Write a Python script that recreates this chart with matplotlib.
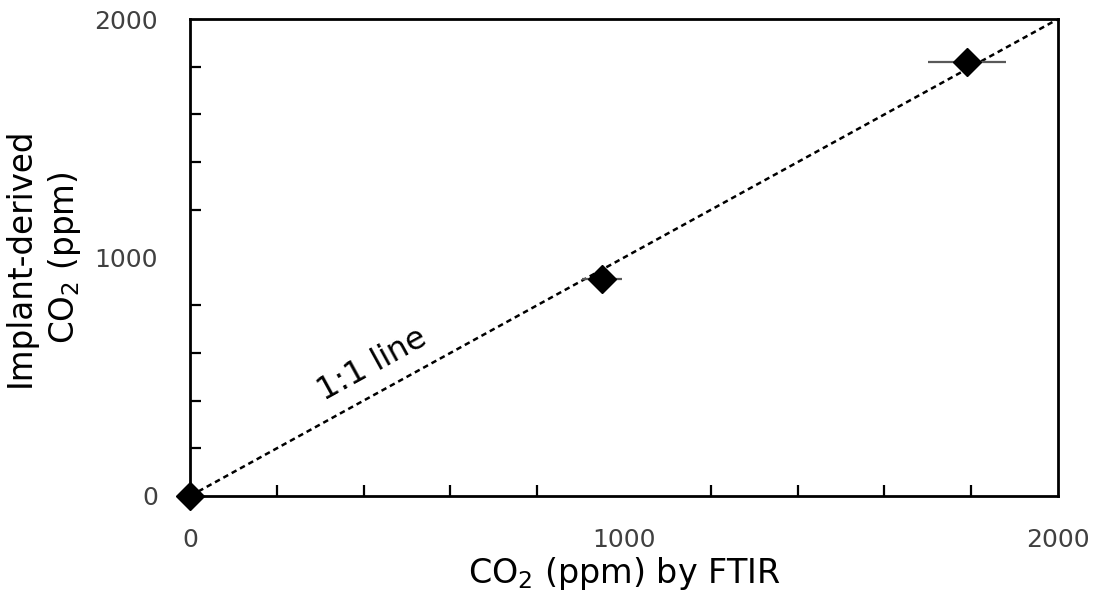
import matplotlib.pyplot as plt
from matplotlib.ticker import MultipleLocator

ftir = [0, 950, 1790]
implant = [0, 910, 1818]
ftir_err = [0, 46, 89]
one_to_one = [0, 2000]

fig = plt.figure(figsize=(10.96, 5.94), dpi=100)
ax = fig.add_axes([0.1734, 0.165, 0.792, 0.803])

ax.plot(one_to_one, one_to_one, color='black', linestyle=(0, (2.2, 1.6)), linewidth=1.8, zorder=2)
ax.errorbar(ftir, implant, xerr=ftir_err, fmt='D', color='black', markersize=14,
            ecolor='#595959', elinewidth=1.6, capsize=0, clip_on=False, zorder=3)

ax.text(420, 549, '1:1 line', rotation=28.8, fontsize=23, ha='center', va='center')

ax.set_xlim(0, 2000)
ax.set_ylim(0, 2000)
ax.set_xticks([0, 1000, 2000])
ax.set_yticks([0, 1000, 2000])
ax.xaxis.set_minor_locator(MultipleLocator(200))
ax.yaxis.set_minor_locator(MultipleLocator(200))
ax.tick_params(which='major', length=0, labelsize=18, labelcolor='#404040')
ax.tick_params(axis='y', which='major', pad=23)
ax.tick_params(axis='x', which='major', pad=23)
ax.tick_params(which='minor', direction='in', length=8, width=1.6)

for s in ax.spines.values():
    s.set_linewidth(2)

ax.set_xlabel('CO$_2$ (ppm) by FTIR', fontsize=24, labelpad=2)
ax.set_ylabel('Implant-derived\nCO$_2$ (ppm)', fontsize=23.5, labelpad=8, linespacing=1.35)

fig.savefig('out.png', dpi=100)
